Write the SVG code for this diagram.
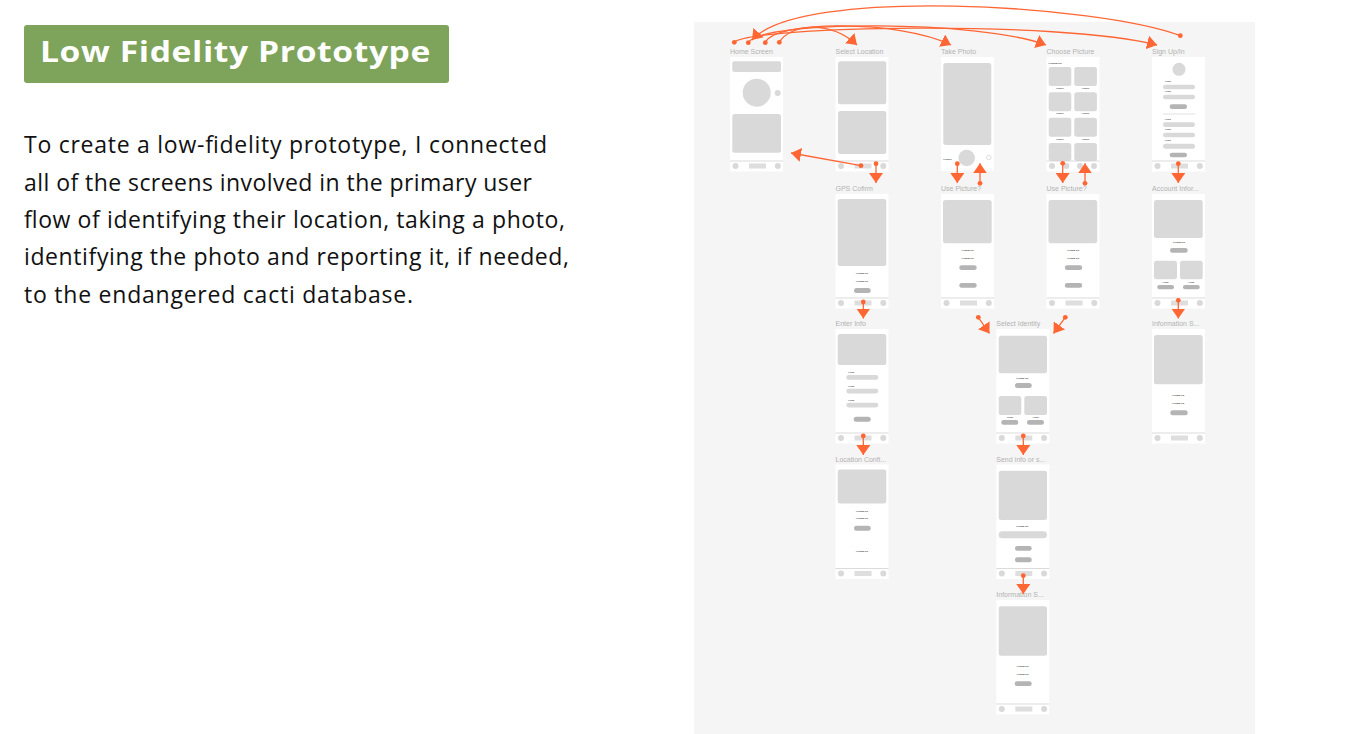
<svg xmlns="http://www.w3.org/2000/svg" xmlns:xlink="http://www.w3.org/1999/xlink" width="1355" height="734" viewBox="0 0 1355 734">
<style>
.scr{fill:#ffffff}
.ph{fill:#d9d9d9}
.dk{fill:#b4b4b4}
.lbl{font-family:"Liberation Sans",Arial,sans-serif;font-size:7px;fill:#b3b3b3}
.tiny{font-family:"Liberation Sans",Arial,sans-serif;font-size:2.2px;font-weight:bold;fill:#444}
.tm{text-anchor:middle}
.body{font-family:"Open Sans","Liberation Sans",sans-serif;font-size:23px;fill:#111}
.con{fill:none;stroke:#ff6633;stroke-width:1.3}
</style>
<defs>
<marker id="arr" viewBox="0 0 10 14" markerWidth="10" markerHeight="14" refX="10" refY="7" orient="auto" markerUnits="userSpaceOnUse"><path d="M0,0 L10,7 L0,14 z" fill="#ff6633"/></marker>
<marker id="dot" viewBox="0 0 6 6" markerWidth="6" markerHeight="6" refX="3" refY="3" markerUnits="userSpaceOnUse"><circle cx="3" cy="3" r="2.4" fill="#ff6633"/></marker>
<g id="nav">
<line x1="0" y1="104" x2="53" y2="104" stroke="#d2d2d2" stroke-width="0.8"/>
<circle class="ph" cx="5.5" cy="109" r="3"/>
<circle class="ph" cx="47.8" cy="109" r="3"/>
<rect x="19" y="106.5" width="17" height="5" fill="#dedede"/>
</g>
</defs>
<rect width="1355" height="734" fill="#ffffff"/>
<g id="title">
<rect x="24" y="25" width="425" height="58" rx="3" fill="#7ea35a"/>
<text x="40" y="62" font-family="'Open Sans','Liberation Sans',sans-serif" font-size="28.5" font-weight="700" letter-spacing="0.5" fill="#ffffff" textLength="391" lengthAdjust="spacingAndGlyphs">Low Fidelity Prototype</text>
</g>
<g id="description" class="body">
<text x="24" y="153" textLength="523" lengthAdjust="spacing">To create a low-fidelity prototype, I connected</text>
<text x="24" y="191" textLength="508" lengthAdjust="spacing">all of the screens involved in the primary user</text>
<text x="24" y="228" textLength="541" lengthAdjust="spacing">flow of identifying their location, taking a photo,</text>
<text x="24" y="265" textLength="545" lengthAdjust="spacing">identifying the photo and reporting it, if needed,</text>
<text x="24" y="303" textLength="389" lengthAdjust="spacing">to the endangered cacti database.</text>
</g>
<rect id="canvas" x="694" y="22" width="561" height="712" fill="#f5f5f5"/>

<g id="home-screen" transform="translate(730,57)">
<text class="lbl" x="0" y="-3">Home Screen</text>
<rect class="scr" width="53" height="114.5"/>
<rect class="ph" x="2.3" y="4.3" width="48.7" height="10.7" rx="2"/>
<circle class="ph" cx="26.7" cy="35.7" r="14"/>
<circle class="ph" cx="47.7" cy="36" r="3"/>
<rect class="ph" x="2.3" y="57" width="48.7" height="38.7" rx="2.5"/>
<use href="#nav" xlink:href="#nav"/>
</g>

<g id="select-location" transform="translate(835.5,57)">
<text class="lbl" x="0" y="-3">Select Location</text>
<rect class="scr" width="53" height="114.5"/>
<rect class="ph" x="2.5" y="4.3" width="48.3" height="43" rx="2.5"/>
<rect class="ph" x="2.5" y="54" width="48.3" height="43" rx="2.5"/>
<use href="#nav" xlink:href="#nav"/>
</g>

<g id="take-photo" transform="translate(941,57)">
<text class="lbl" x="0" y="-3">Take Photo</text>
<rect class="scr" width="53" height="114"/>
<rect class="ph" x="2.3" y="6" width="48" height="82" rx="2.5"/>
<text class="tiny" x="2.2" y="102.8" style="font-size:1.8px">LOREM IP</text>
<circle class="ph" cx="25.7" cy="101" r="8.3"/>
<circle cx="47.8" cy="100.5" r="2.2" fill="none" stroke="#c6c6c6" stroke-width="0.6"/>
</g>

<g id="choose-picture" transform="translate(1046.5,57)">
<text class="lbl" x="0" y="-3">Choose Picture</text>
<rect class="scr" width="53" height="114.5"/>
<text class="tiny" x="2" y="6.8" style="font-size:2.4px">LOREM IPS</text>
<rect class="ph" x="2.2" y="10" width="22.6" height="19" rx="2.5"/>
<rect class="ph" x="27.8" y="10" width="22.6" height="19" rx="2.5"/>
<rect class="ph" x="2.2" y="35.3" width="22.6" height="19" rx="2.5"/>
<rect class="ph" x="27.8" y="35.3" width="22.6" height="19" rx="2.5"/>
<rect class="ph" x="2.2" y="60.7" width="22.6" height="19" rx="2.5"/>
<rect class="ph" x="27.8" y="60.7" width="22.6" height="19" rx="2.5"/>
<rect class="ph" x="2.2" y="86" width="22.6" height="18" rx="2.5"/>
<rect class="ph" x="27.8" y="86" width="22.6" height="18" rx="2.5"/>
<g class="tiny tm" style="font-size:1.6px">
<text x="13.5" y="32">LOREM IP</text><text x="39.1" y="32">LOREM IP</text>
<text x="13.5" y="57.3">LOREM IP</text><text x="39.1" y="57.3">LOREM IP</text>
<text x="13.5" y="82.7">LOREM IP</text><text x="39.1" y="82.7">LOREM IP</text>
</g>
<line x1="0" y1="104" x2="53" y2="104" stroke="#d2d2d2" stroke-width="0.8"/>
<circle class="ph" cx="5.5" cy="109" r="3"/>
<circle class="ph" cx="19.8" cy="109" r="3"/>
<circle class="ph" cx="33.5" cy="109" r="3"/>
<circle class="ph" cx="47.5" cy="109" r="3"/>
</g>

<g id="sign-up-in" transform="translate(1152,57)">
<text class="lbl" x="0" y="-3">Sign Up/In</text>
<rect class="scr" width="53" height="114.5"/>
<circle class="ph" cx="27" cy="12.3" r="6.5"/>
<g class="tiny" style="font-size:1.6px">
<text x="13" y="25">LOREM</text><text x="13" y="35.4">LOREM</text>
<text x="13" y="62.7">LOREM</text><text x="13" y="73.4">LOREM</text><text x="13" y="84.4">LOREM</text>
</g>
<rect class="ph" x="11" y="27.7" width="32" height="4.6" rx="2.3"/>
<rect class="ph" x="11" y="37.7" width="32" height="4.6" rx="2.3"/>
<rect class="dk" x="17.7" y="47.3" width="17.3" height="4.7" rx="2.3"/>
<line x1="11" y1="57" x2="43" y2="57" stroke="#d9d9d9" stroke-width="0.8"/>
<rect class="ph" x="11" y="65.3" width="32" height="4.7" rx="2.3"/>
<rect class="ph" x="11" y="75.7" width="32" height="4.6" rx="2.3"/>
<rect class="ph" x="11" y="86.7" width="32" height="5" rx="2.5"/>
<rect class="dk" x="17.7" y="95.7" width="17.3" height="4.6" rx="2.3"/>
<use href="#nav" xlink:href="#nav"/>
</g>

<g id="gps-cofirm" transform="translate(835.5,194)">
<text class="lbl" x="0" y="-3">GPS Cofirm</text>
<rect class="scr" width="53" height="114.5"/>
<rect class="ph" x="2.2" y="5" width="48.6" height="67" rx="2.5"/>
<text class="tiny tm" x="26.5" y="80.2">LOREM IPS</text>
<text class="tiny tm" x="26.5" y="87.6">LOREM IPS</text>
<rect class="dk" x="18.5" y="94" width="16.7" height="5" rx="2.5"/>
<use href="#nav" xlink:href="#nav"/>
</g>

<g id="use-picture-1" transform="translate(941,194)">
<text class="lbl" x="0" y="-3">Use Picture?</text>
<rect class="scr" width="53" height="114.5"/>
<rect class="ph" x="2" y="6" width="48.7" height="43.3" rx="2.5"/>
<text class="tiny tm" x="26.7" y="57.3">LOREM IPS</text>
<text class="tiny tm" x="26.7" y="64.7">LOREM IPS</text>
<rect class="dk" x="18.3" y="71.3" width="17.4" height="4.7" rx="2.3"/>
<rect class="dk" x="18.3" y="89" width="17.4" height="4.7" rx="2.3"/>
<use href="#nav" xlink:href="#nav"/>
</g>

<g id="use-picture-2" transform="translate(1046.5,194)">
<text class="lbl" x="0" y="-3">Use Picture?</text>
<rect class="scr" width="53" height="114.5"/>
<rect class="ph" x="2" y="6" width="48.7" height="43.3" rx="2.5"/>
<text class="tiny tm" x="26.7" y="57.3">LOREM IPS</text>
<text class="tiny tm" x="26.7" y="64.7">LOREM IPS</text>
<rect class="dk" x="18.3" y="71.3" width="17.4" height="4.7" rx="2.3"/>
<rect class="dk" x="18.3" y="89" width="17.4" height="4.7" rx="2.3"/>
<use href="#nav" xlink:href="#nav"/>
</g>

<g id="account-info" transform="translate(1152,194)">
<text class="lbl" x="0" y="-3">Account Infor...</text>
<rect class="scr" width="53" height="114.5"/>
<rect class="ph" x="2" y="6" width="48.7" height="38" rx="2.5"/>
<text class="tiny tm" x="27" y="49.2">LOREM IPS</text>
<rect class="dk" x="18" y="54" width="17.7" height="4.7" rx="2.3"/>
<rect class="ph" x="2" y="66.7" width="23" height="18.6" rx="2.5"/>
<rect class="ph" x="28" y="66.7" width="22.7" height="18.6" rx="2.5"/>
<text class="tiny tm" x="13.5" y="88.5" style="font-size:1.6px">LOREM</text>
<text class="tiny tm" x="39.3" y="88.5" style="font-size:1.6px">LOREM</text>
<rect class="dk" x="5.3" y="91" width="16.7" height="4.3" rx="2.1"/>
<rect class="dk" x="31" y="91" width="16.7" height="4.3" rx="2.1"/>
<use href="#nav" xlink:href="#nav"/>
</g>

<g id="enter-info" transform="translate(835.5,329)">
<text class="lbl" x="0" y="-3">Enter Info</text>
<rect class="scr" width="53" height="114.5"/>
<rect class="ph" x="2.2" y="5" width="48.6" height="31" rx="2.5"/>
<g class="tiny" style="font-size:1.6px">
<text x="12.8" y="44.3">LOREM</text><text x="12.8" y="57.8">LOREM</text><text x="12.8" y="71.8">LOREM</text>
</g>
<rect class="ph" x="10.8" y="46" width="32" height="4.7" rx="2.3"/>
<rect class="ph" x="10.8" y="59.7" width="32" height="4.7" rx="2.3"/>
<rect class="ph" x="10.8" y="73.7" width="32" height="4.7" rx="2.3"/>
<rect class="dk" x="18.2" y="87.7" width="17" height="5" rx="2.5"/>
<use href="#nav" xlink:href="#nav"/>
</g>

<g id="select-identity" transform="translate(996.3,329)">
<text class="lbl" x="0" y="-3">Select Identity</text>
<rect class="scr" width="53" height="114.5"/>
<rect class="ph" x="2.4" y="6.7" width="48.3" height="37.6" rx="2.5"/>
<text class="tiny tm" x="26" y="50.2">LOREM IPS</text>
<rect class="dk" x="18.7" y="54" width="16.7" height="5" rx="2.5"/>
<rect class="ph" x="2.4" y="67" width="22.6" height="19" rx="2.5"/>
<rect class="ph" x="28" y="67" width="22.7" height="19" rx="2.5"/>
<text class="tiny tm" x="13.7" y="89.2" style="font-size:1.6px">LOREM</text>
<text class="tiny tm" x="39.3" y="89.2" style="font-size:1.6px">LOREM</text>
<rect class="dk" x="5" y="91" width="17" height="4.7" rx="2.3"/>
<rect class="dk" x="30.7" y="91" width="17" height="4.7" rx="2.3"/>
<use href="#nav" xlink:href="#nav"/>
</g>

<g id="information-s-1" transform="translate(1152,329)">
<text class="lbl" x="0" y="-3">Information S...</text>
<rect class="scr" width="53" height="114.5"/>
<rect class="ph" x="2" y="6" width="48.7" height="49.3" rx="2.5"/>
<text class="tiny tm" x="26.3" y="67.3">LOREM IPS</text>
<text class="tiny tm" x="26.3" y="75.3">LOREM IPS</text>
<rect class="dk" x="18.3" y="81.3" width="17.4" height="5" rx="2.5"/>
<use href="#nav" xlink:href="#nav"/>
</g>

<g id="location-confirm" transform="translate(835.5,464.5)">
<text class="lbl" x="0" y="-3">Location Confi...</text>
<rect class="scr" width="53" height="114.5"/>
<rect class="ph" x="2.2" y="5" width="48.6" height="34" rx="2.5"/>
<text class="tiny tm" x="26.5" y="47">LOREM IPS</text>
<text class="tiny tm" x="26.5" y="54.5">LOREM IPS</text>
<rect class="dk" x="18.5" y="61.2" width="16.7" height="5" rx="2.5"/>
<text class="tiny tm" x="26.5" y="87">LOREM IPS</text>
<use href="#nav" xlink:href="#nav"/>
</g>

<g id="send-info" transform="translate(996.3,464.5)">
<text class="lbl" x="0" y="-3">Send info or s...</text>
<rect class="scr" width="53" height="114.5"/>
<rect class="ph" x="2.4" y="6.2" width="48.3" height="49.3" rx="2.5"/>
<text class="tiny tm" x="26" y="62.5">LOREM IPS</text>
<rect class="ph" x="2.4" y="66.8" width="48.3" height="7" rx="3.5"/>
<rect class="dk" x="18.7" y="81.5" width="16.7" height="4.7" rx="2.3"/>
<rect class="dk" x="18.7" y="92.8" width="16.7" height="5" rx="2.5"/>
<use href="#nav" xlink:href="#nav"/>
</g>

<g id="information-s-2" transform="translate(996.3,600)">
<text class="lbl" x="0" y="-3">Information S...</text>
<rect class="scr" width="53" height="114.5"/>
<rect class="ph" x="2.4" y="6.3" width="48.3" height="49.4" rx="2.5"/>
<text class="tiny tm" x="26.4" y="67.3">LOREM IPS</text>
<text class="tiny tm" x="26.4" y="75.3">LOREM IPS</text>
<rect class="dk" x="18.4" y="81.3" width="17" height="4.7" rx="2.3"/>
<use href="#nav" xlink:href="#nav"/>
</g>

<g id="connectors" class="con" marker-start="url(#dot)" marker-end="url(#arr)">
<path d="M1180.3,35.7 C1100,5 800,-14 752,40"/>
<path d="M734.3,42.3 C750,26 1060,20 1157,45"/>
<path d="M748.3,42.7 C760,20 980,20 1046,45"/>
<path d="M765.3,42.7 C775,20 900,20 951,45"/>
<path d="M779.3,42.3 C790,24 830,20 857,45"/>
<path d="M861,165.7 L791,153"/>
<path d="M876,163.7 V183"/>
<path d="M957.3,163.7 V183"/>
<path d="M980,183.3 V163.3"/>
<path d="M1062.7,163.3 V183"/>
<path d="M1085,183.3 V163.3"/>
<path d="M1178.3,163.7 V183"/>
<path d="M863.3,302 V318.5"/>
<path d="M978.3,317.3 L989.5,333.5"/>
<path d="M1065.3,317.3 L1053.5,333.5"/>
<path d="M1178.3,300.3 V318.5"/>
<path d="M863.3,436 V455"/>
<path d="M1023.3,436 V455"/>
<path d="M1023.3,575.7 V594"/>
</g>
</svg>
